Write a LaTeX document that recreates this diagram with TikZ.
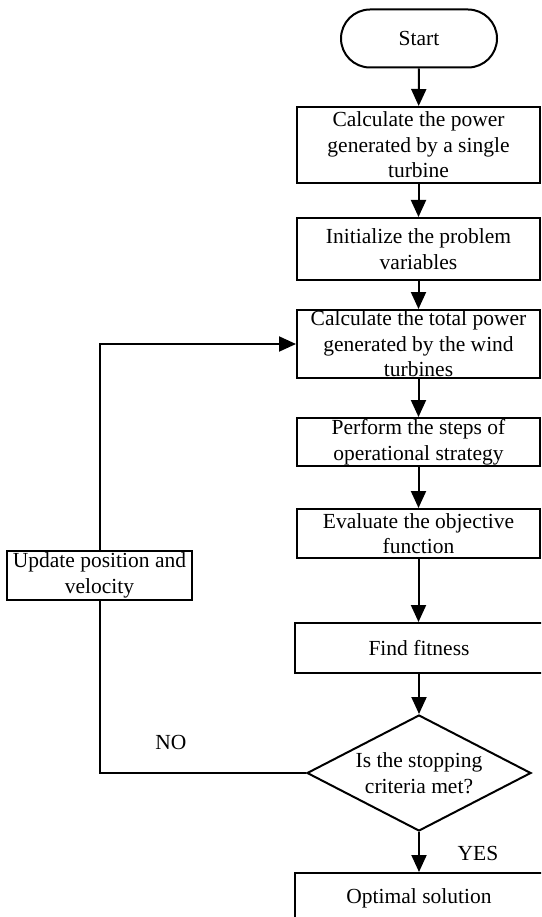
\documentclass[tikz,border=0pt]{standalone}
\usepackage{fontspec}
\setmainfont{Liberation Serif}
\usetikzlibrary{arrows.meta,shapes.geometric}
\begin{document}
\begin{tikzpicture}[x=1pt,y=-1pt,line width=2pt,
  txt/.style={align=center,font=\fontsize{21.5}{25.5}\selectfont,inner sep=0pt},
  boxst/.style={txt,draw,rectangle,minimum width=243pt},
  widebox/.style={txt,draw,rectangle,minimum width=248pt},
  arr/.style={-{Triangle[length=17pt,width=15pt]}}]
\useasboundingbox (0,0) rectangle (541,917);
\clip (0,0) rectangle (541,917);

\node[txt,draw,rounded corners=29pt,minimum width=156pt,minimum height=58pt] (start) at (419,38.5) {Start};
\node[boxst,minimum height=76pt] (b1) at (418.5,145) {Calculate the power\\generated by a single\\turbine};
\node[boxst,minimum height=62pt] (b2) at (418.5,249) {Initialize the problem\\variables};
\node[boxst,minimum height=68pt] (b3) at (418.5,344) {};
\node[txt] (b3text) at (418.5,344) {Calculate the total power\\generated by the wind\\turbines};
\node[boxst,minimum height=48pt] (b4) at (418.5,442) {Perform the steps of\\operational strategy};
\node[boxst,minimum height=49pt] (b5) at (418.5,533.5) {Evaluate the objective\\function};
\node[widebox,minimum height=50pt] (fit) at (419,648) {Find fitness};
\node[txt,draw,diamond,aspect=1.93,minimum width=224pt,minimum height=116pt] (dia) at (419,773) {Is the stopping\\criteria met?};
\node[widebox,minimum height=50pt] (opt) at (419,898) {Optimal solution};
\node[txt,draw,rectangle,minimum width=185pt,minimum height=49pt] (upd) at (99.5,575.5) {Update position and\\velocity};

\node[txt] (no) at (171,742) {NO};
\node[txt] (yes) at (478,853) {YES};

\draw[arr] (start) -- (b1);
\draw[arr] (b1) -- (b2);
\draw[arr] (b2) -- (b3);
\draw[arr] (b3) -- (b4);
\draw[arr] (b4) -- (b5);
\draw[arr] (b5.south) -- (b5.south |- fit.north);
\draw[arr] (fit) -- (dia);
\draw[arr] (dia) -- (opt);
\draw (dia.west) -| (upd.south);
\draw[arr] (upd.north) |- (b3.west);
\end{tikzpicture}
\end{document}
